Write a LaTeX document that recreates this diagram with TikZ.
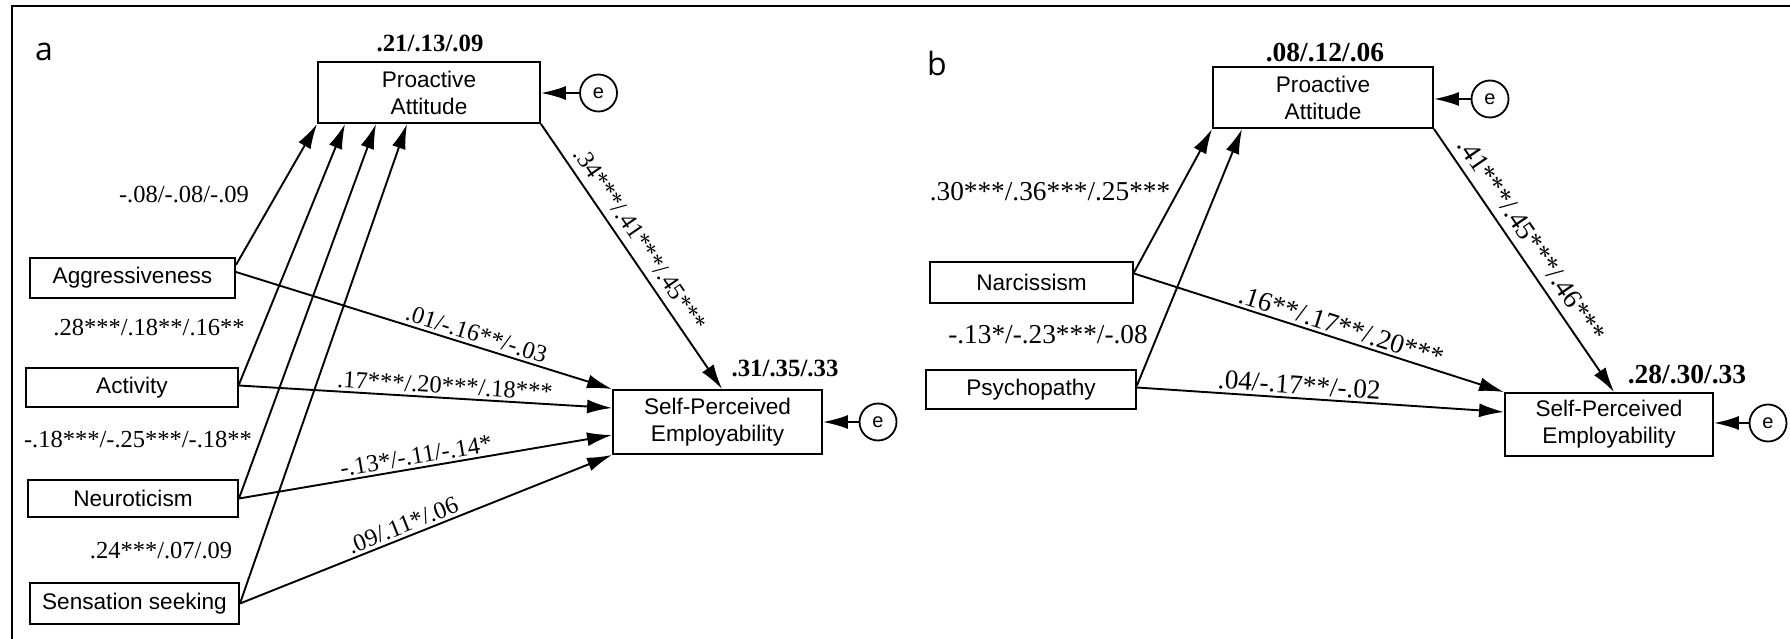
\documentclass[tikz,border=0pt]{standalone}
\usepackage{fontspec}
\setmainfont{Liberation Serif}
\newfontfamily\arialf{Liberation Sans}
\newfontfamily\letterf{Open Sans}
\usetikzlibrary{arrows.meta,calc}
\newcommand\bxf{\arialf\fontsize{22.6}{27}\selectfont}
\newcommand\lfa{\fontsize{24.5}{28}\selectfont}
\newcommand\lfb{\fontsize{27.3}{30}\selectfont}
\begin{document}
\begin{tikzpicture}[x=1pt,y=-1pt,
  box/.style={draw, line width=1.9pt, inner sep=0pt, align=center, font=\bxf},
  err/.style={draw, circle, line width=1.8pt, minimum size=37pt, inner sep=0pt, font=\arialf\fontsize{20}{20}\selectfont},
  arr/.style={line width=1.9pt, -{Latex[length=25pt,width=14pt]}},
  lna/.style={font=\lfa, inner sep=2pt},
  lnb/.style={font=\lfb, inner sep=2pt},
  sla/.style={font=\lfa, inner sep=3pt, sloped, above},
  slb/.style={font=\lfb, inner sep=3pt, sloped, above},
  r2a/.style={font=\bfseries\fontsize{24.8}{26}\selectfont, inner sep=0pt},
  r2b/.style={font=\bfseries\fontsize{27.5}{29}\selectfont, inner sep=0pt},
  panel/.style={font=\letterf\fontsize{32}{32}\selectfont, inner sep=0pt}]
\useasboundingbox (0,0) rectangle (1790,639);
\draw[line width=2.2pt] (12,639) -- (12,6) -- (1790,6);

% panel a
\node[panel] (la) at (44,52) {a};
\node[box, minimum width=222pt, minimum height=61pt] (paa) at (429,92.5) {Proactive\\Attitude};
\node[box, minimum width=205pt, minimum height=40pt] (agg) at (132.5,278) {Aggressiveness};
\node[box, minimum width=212pt, minimum height=39pt] (act) at (132,387.5) {Activity};
\node[box, minimum width=210pt, minimum height=37pt] (neu) at (133,498.5) {Neuroticism};
\node[box, minimum width=209pt, minimum height=41pt] (ss) at (134.5,603.5) {Sensation seeking};
\node[box, minimum width=209pt, minimum height=64pt] (spea) at (717.5,422) {Self-Perceived\\Employability};
\node[err] (ea1) at (598.5,93) {e};
\node[err] (ea2) at (878,422) {e};
\node[r2a] (r2a1) at (430,43) {.21/.13/.09};
\node[r2a] (r2a2) at (785,368) {.31/.35/.33};

\draw[arr] (ea1) -- (paa.east |- ea1);
\draw[arr] (ea2) -- (spea.east |- ea2);
\draw[arr] ([yshift=13pt]agg.east) -- (paa.south west);
\draw[arr] ([yshift=3pt]act.east) -- ([xshift=28pt]paa.south west);
\draw[arr] (neu.east) -- ([xshift=59pt]paa.south west);
\draw[arr] (ss.east) -- ([xshift=90pt]paa.south west);
\draw[arr] ([yshift=6pt]agg.east) -- (spea.north west) node[sla, pos=0.63] {.01/-.16**/-.03};
\draw[arr] ([yshift=2pt]act.east) -- ([yshift=14pt]spea.west) node[sla, pos=0.55] {.17***/.20***/.18***};
\draw[arr] (neu.east) -- ([yshift=-13pt]spea.west) node[sla, pos=0.48] {-.13*/-.11/-.14*};
\draw[arr] (ss.east) -- (spea.south west) node[sla, pos=0.45] {.09/.11*/.06};
\draw[arr] (paa.south east) -- ([xshift=110pt]spea.north west) node[sla, pos=0.47, above=5pt] {.34***/.41***/.45***};

\node[lna] (c1) at (184,195) {-.08/-.08/-.09};
\node[lna] (c2) at (149,328) {.28***/.18**/.16**};
\node[lna] (c3) at (138,440) {-.18***/-.25***/-.18**};
\node[lna] (c4) at (161,551) {.24***/.07/.09};

% panel b
\node[panel] (lb) at (937,64) {b};
\node[box, minimum width=220pt, minimum height=61pt] (pab) at (1323,97.5) {Proactive\\Attitude};
\node[box, minimum width=203pt, minimum height=41pt] (nar) at (1031.5,282.5) {Narcissism};
\node[box, minimum width=210pt, minimum height=39pt] (psy) at (1031,389.5) {Psychopathy};
\node[box, minimum width=208pt, minimum height=63pt] (speb) at (1609,424.5) {Self-Perceived\\Employability};
\node[err] (eb1) at (1490,99) {e};
\node[err] (eb2) at (1768,423) {e};
\node[r2b] (r2b1) at (1325,53) {.08/.12/.06};
\node[r2b] (r2b2) at (1687,375) {.28/.30/.33};

\draw[arr] (eb1) -- (pab.east |- eb1);
\draw[arr] (eb2) -- (speb.east |- eb2);
\draw[arr] ([yshift=10pt]nar.east) -- (pab.south west);
\draw[arr] ([yshift=4pt]psy.east) -- ([xshift=30pt]pab.south west);
\draw[arr] ([yshift=9pt]nar.east) -- (speb.north west) node[slb, pos=0.55] {.16**/.17**/.20***};
\draw[arr] ([yshift=2pt]psy.east) -- ([yshift=12.5pt]speb.west) node[slb, pos=0.44] {.04/-.17**/-.02};
\draw[arr] (pab.south east) -- ([xshift=110pt]speb.north west) node[slb, pos=0.46, above=5pt] {.41***/.45***/.46***};

\node[lnb] (d1) at (1050,192) {.30***/.36***/.25***};
\node[lnb] (d2) at (1048,335) {-.13*/-.23***/-.08};
\end{tikzpicture}
\end{document}
